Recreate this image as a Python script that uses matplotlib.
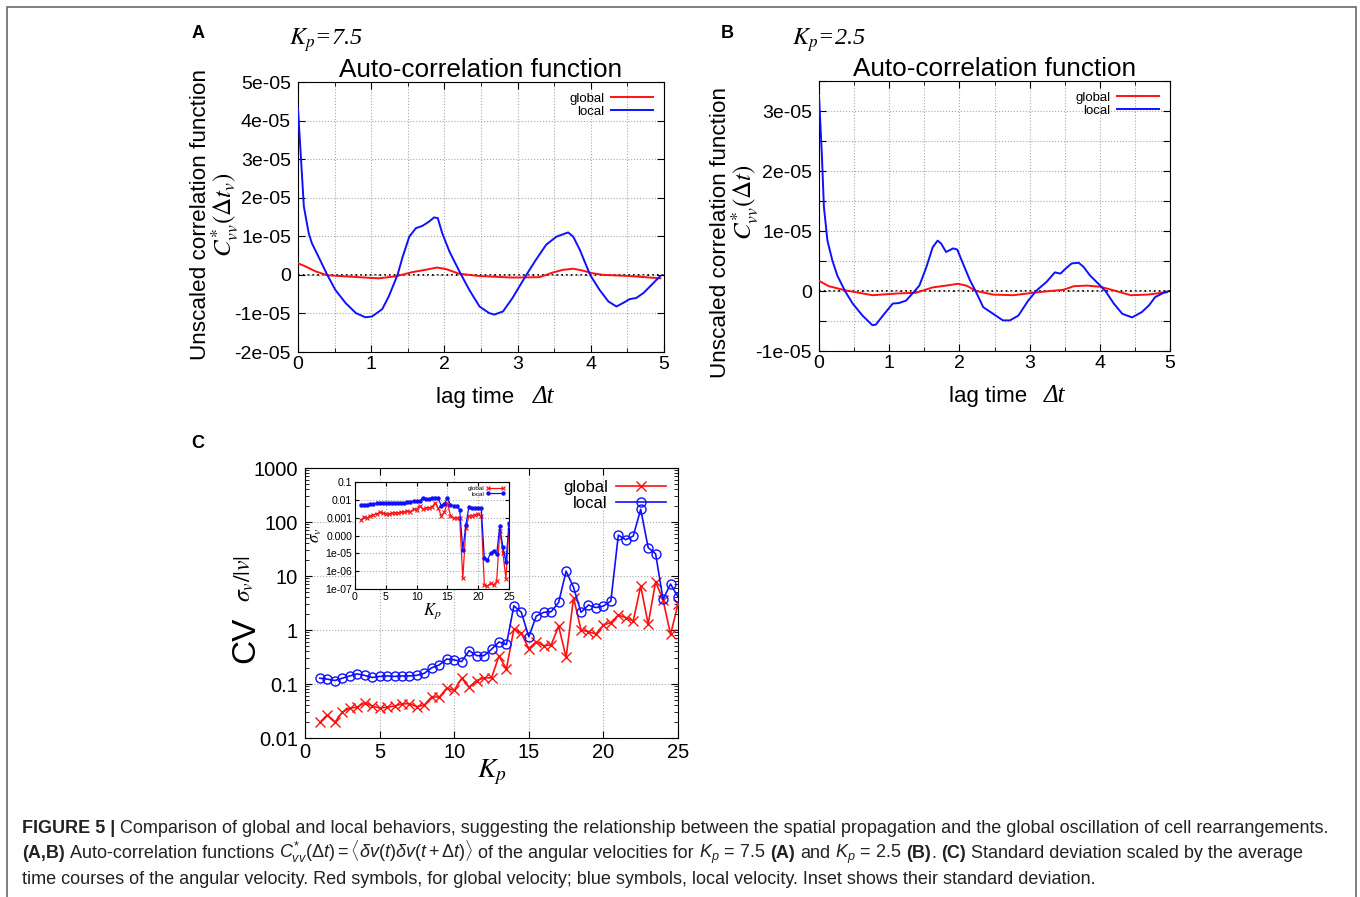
import numpy as np
import matplotlib
matplotlib.use('Agg')
import matplotlib.pyplot as plt
from matplotlib.patches import Rectangle
from matplotlib.ticker import MultipleLocator, FixedLocator, FuncFormatter, LogLocator, NullFormatter

# fonts
plt.rcParams['font.family'] = ['Liberation Sans', 'DejaVu Sans']
plt.rcParams['mathtext.fontset'] = 'stix'
plt.rcParams['mathtext.rm'] = 'Liberation Sans'
plt.rcParams['mathtext.it'] = 'Liberation Sans:italic'
plt.rcParams['mathtext.bf'] = 'Liberation Sans:bold'
plt.rcParams['axes.unicode_minus'] = False

SERIF = ['Liberation Serif', 'DejaVu Serif']

# ---- panel A: Kp = 7.5 ----
a_t_local = [0.0, 0.08, 0.146, 0.19, 0.28, 0.40, 0.51, 0.65, 0.79, 0.92, 1.01, 1.15, 1.24,
             1.36, 1.43, 1.52, 1.61, 1.70, 1.79, 1.86, 1.91, 1.97, 2.07, 2.16, 2.23, 2.34,
             2.48, 2.61, 2.68, 2.80, 2.93, 3.12, 3.25, 3.39, 3.53, 3.69, 3.76, 3.85, 3.99,
             4.12, 4.24, 4.35, 4.44, 4.53, 4.62, 4.72, 4.85, 4.95]
a_local = [4.31, 1.77, 1.08, 0.82, 0.47, 0.0, -0.39, -0.73, -0.99, -1.10, -1.08, -0.89, -0.56,
           0.0, 0.47, 0.99, 1.21, 1.27, 1.38, 1.49, 1.47, 1.08, 0.60, 0.26, 0.0, -0.39,
           -0.82, -0.99, -1.03, -0.95, -0.60, 0.0, 0.39, 0.78, 0.99, 1.10, 0.99, 0.65, 0.0,
           -0.39, -0.69, -0.82, -0.73, -0.63, -0.60, -0.47, -0.22, -0.03]
a_t_global = [0.0, 0.1, 0.24, 0.40, 0.65, 1.1, 1.33, 1.56, 1.74, 1.90, 2.02, 2.2, 2.48, 2.93,
              3.3, 3.48, 3.62, 3.76, 3.89, 4.03, 4.17, 4.53, 4.95]
a_global = [0.30, 0.22, 0.09, -0.01, -0.04, -0.09, -0.04, 0.07, 0.13, 0.19, 0.15, 0.03, -0.03,
            -0.07, -0.06, 0.06, 0.13, 0.16, 0.11, 0.04, 0.0, -0.03, -0.09]

# ---- panel B: Kp = 2.5 ----
b_t_local = [0.0, 0.04, 0.07, 0.12, 0.19, 0.26, 0.37, 0.48, 0.62, 0.76, 0.81, 0.91, 1.05, 1.14,
             1.24, 1.34, 1.43, 1.53, 1.62, 1.69, 1.74, 1.81, 1.91, 1.97, 2.05, 2.15, 2.23,
             2.34, 2.48, 2.62, 2.72, 2.84, 2.98, 3.10, 3.24, 3.36, 3.44, 3.51, 3.60, 3.70,
             3.77, 3.86, 3.98, 4.08, 4.20, 4.32, 4.46, 4.60, 4.70, 4.79, 4.91, 4.96]
b_local = [3.26, 2.29, 1.40, 0.84, 0.51, 0.26, 0.0, -0.21, -0.41, -0.57, -0.56, -0.41, -0.21,
           -0.20, -0.16, -0.03, 0.09, 0.40, 0.73, 0.84, 0.79, 0.65, 0.71, 0.69, 0.46, 0.18,
           0.0, -0.27, -0.38, -0.49, -0.49, -0.41, -0.16, 0.01, 0.15, 0.31, 0.29, 0.37, 0.46,
           0.47, 0.40, 0.26, 0.12, 0.0, -0.21, -0.38, -0.44, -0.35, -0.24, -0.10, -0.03, -0.01]
b_t_global = [0.0, 0.14, 0.38, 0.76, 1.14, 1.38, 1.62, 1.81, 1.98, 2.10, 2.24, 2.48, 2.77, 3.05,
              3.29, 3.48, 3.63, 3.82, 4.01, 4.20, 4.44, 4.68, 4.96]
b_global = [0.17, 0.08, 0.01, -0.07, -0.04, -0.03, 0.06, 0.09, 0.12, 0.09, 0.0, -0.06, -0.07,
            -0.03, 0.0, 0.02, 0.08, 0.09, 0.07, 0.01, -0.07, -0.06, -0.02]

# ---- panel C: CV vs Kp ----
kp = [1, 1.5, 2, 2.5, 3, 3.5, 4, 4.5, 5, 5.5, 6, 6.5, 7, 7.5, 8, 8.5, 9, 9.5, 10, 10.5,
      11, 11.5, 12, 12.5, 13, 13.5, 14, 14.5, 15, 15.5, 16, 16.5, 17, 17.5, 18, 18.5,
      19, 19.5, 20, 20.5, 21, 21.5, 22, 22.5, 23, 23.5, 24, 24.5, 25]
cv_global = [0.0195, 0.027, 0.0195, 0.030, 0.036, 0.037, 0.045, 0.039, 0.036, 0.037, 0.039,
             0.043, 0.043, 0.038, 0.041, 0.058, 0.057, 0.084, 0.076, 0.128, 0.087, 0.116,
             0.13, 0.13, 0.33, 0.19, 1.04, 0.87, 0.45, 0.61, 0.51, 0.53, 1.18, 0.31, 3.96,
             1.0, 0.93, 0.84, 1.24, 1.37, 1.89, 1.69, 1.47, 6.5, 1.29, 7.8, 3.6, 0.83, 3.0]
cv_local = [0.128, 0.123, 0.116, 0.128, 0.141, 0.154, 0.144, 0.132, 0.138, 0.141, 0.138,
            0.141, 0.141, 0.145, 0.158, 0.20, 0.226, 0.29, 0.28, 0.26, 0.415, 0.335, 0.335,
            0.44, 0.60, 0.54, 2.8, 2.12, 0.75, 1.81, 2.12, 2.18, 3.24, 12.3, 6.15, 2.12, 2.9,
            2.6, 2.78, 3.43, 57, 47, 55, 172, 33.6, 25.7, 3.68, 7.1, 4.1]

# inset: standard deviation
sd_global = [7.5e-4, 1.1e-3, 1.0e-3, 1.3e-3, 1.5e-3, 1.6e-3, 2.0e-3, 1.8e-3, 1.6e-3, 1.6e-3,
             1.8e-3, 1.9e-3, 1.9e-3, 2.0e-3, 2.1e-3, 2.4e-3, 2.2e-3, 3.0e-3, 2.8e-3, 4.8e-3,
             3.0e-3, 3.5e-3, 3.6e-3, 4.0e-3, 6.8e-3, 3.5e-3, 1.3e-3, 2.0e-3, 6.6e-3, 1.3e-3,
             1.0e-3, 1.0e-3, 9.0e-4, 3.9e-7, 2.6e-4, 1.2e-3, 1.3e-3, 1.5e-3, 1.6e-3, 1.2e-3,
             1.6e-7, 1.5e-7, 2.1e-7, 1.6e-7, 2.8e-7, 1.9e-4, 1.1e-5, 3.7e-7, 3.0e-4]
sd_local = [5.2e-3, 5.4e-3, 5.4e-3, 5.8e-3, 6.0e-3, 6.3e-3, 6.5e-3, 6.3e-3, 6.3e-3, 6.4e-3,
            6.5e-3, 6.5e-3, 6.6e-3, 6.7e-3, 6.8e-3, 7.2e-3, 7.8e-3, 8.5e-3, 8.2e-3, 8.5e-3,
            1.3e-2, 1.1e-2, 1.15e-2, 1.25e-2, 1.3e-2, 1.2e-2, 4.8e-3, 5.8e-3, 1.25e-2, 5.2e-3,
            4.8e-3, 4.4e-3, 2.8e-3, 1.6e-5, 4.0e-4, 4.2e-3, 3.4e-3, 3.6e-3, 3.6e-3, 3.4e-3,
            5.2e-6, 4.2e-6, 1.0e-5, 1.4e-5, 9.0e-6, 3.3e-4, 2.3e-5, 3.1e-6, 4.9e-4]

W, H = 1360, 897
fig = plt.figure(figsize=(W / 100, H / 100), dpi=100)

GRID = dict(color='#a8a8a8', linestyle=':', linewidth=0.8)


def px_axes(left, top, right, bottom):
    return fig.add_axes([left / W, 1 - bottom / H, (right - left) / W, (bottom - top) / H])


def sci_label(v, _):
    if abs(v) < 1e-12:
        return '0'
    if abs(round(v / 1e-5) - v / 1e-5) > 1e-6:
        return ''
    return f'{v:.0e}'


def style_corr(ax, ymin, ymax, ystep):
    ax.set_xlim(0, 5)
    ax.set_ylim(ymin, ymax)
    ax.xaxis.set_major_locator(MultipleLocator(1))
    ax.xaxis.set_minor_locator(MultipleLocator(0.5))
    ax.yaxis.set_major_locator(MultipleLocator(ystep))
    ax.yaxis.set_major_formatter(FuncFormatter(sci_label))
    ax.tick_params(which='both', direction='in', top=True, right=True, labelsize=14)
    ax.tick_params(which='major', length=5)
    ax.tick_params(which='minor', length=3)
    ax.tick_params(axis='x', pad=3)
    ax.tick_params(axis='y', pad=5)
    ax.grid(True, which='both', **GRID)
    ax.axhline(0, color='k', linestyle=':', linewidth=1.3, zorder=1)
    ax.set_title('Auto-correlation function', fontsize=18.8, pad=2)
    ax.set_xlabel('lag time  ', fontsize=16, labelpad=10)


def draw_corr(ax, tg, g, tl, l):
    ax.plot(tg, np.array(g) * 1e-5, color='#ff1010', lw=1.4, label='global', zorder=3)
    ax.plot(tl, np.array(l) * 1e-5, color='#1010ff', lw=1.4, label='local', zorder=3)
    ax.legend(loc='upper right', frameon=False, markerfirst=False, fontsize=9.5,
              handlelength=3.2, handletextpad=0.5, labelspacing=0.05,
              borderaxespad=0.4)


# panel A
axA = px_axes(298, 82, 664, 352)
draw_corr(axA, a_t_global, a_global, a_t_local, a_local)
style_corr(axA, -2e-5, 5e-5, 1e-5)

# panel B
axB = px_axes(819, 81, 1170, 351)
draw_corr(axB, b_t_global, b_global, b_t_local, b_local)
style_corr(axB, -1e-5, 3.5e-5, 0.5e-5)

# italic Δt next to the x labels
for ax in (axA, axB):
    ax.text(0.67, -0.165, 'Δt', transform=ax.transAxes, fontsize=18,
            family=SERIF, style='italic', ha='center', va='center')

# y labels and Kp values above A and B
fig.text(201 / W, 1 - 215 / H, 'Unscaled correlation function', rotation=90,
         fontsize=16.2, ha='center', va='center')
fig.text(225 / W, 1 - 215 / H, r'$C^{*}_{vv}(\mathit{\Delta} t_{v})$', rotation=90,
         fontsize=18, ha='center', va='center')
fig.text(721 / W, 1 - 233 / H, 'Unscaled correlation function', rotation=90,
         fontsize=16.2, ha='center', va='center')
fig.text(745 / W, 1 - 202 / H, r'$C^{*}_{vv}(\mathit{\Delta} t)$', rotation=90,
         fontsize=18, ha='center', va='center')
fig.text(289 / W, 1 - 40 / H, r'$K_p$=7.5', fontsize=17.5, family=SERIF, style='italic',
         ha='left', va='center')
fig.text(792 / W, 1 - 40 / H, r'$K_p$=2.5', fontsize=17.5, family=SERIF, style='italic',
         ha='left', va='center')

# panel C
axC = px_axes(305, 468, 678, 738)
axC.plot(kp, cv_global, color='#ff1010', lw=1.2, marker='x', ms=6.5, mew=1.0,
         label='global', zorder=3)
axC.plot(kp, cv_local, color='#1010ff', lw=1.2, marker='o', ms=6.5, mew=1.0,
         mfc='none', label='local', zorder=3)
axC.set_yscale('log')
axC.set_xlim(0, 25)
axC.set_ylim(0.01, 1000)
axC.xaxis.set_major_locator(MultipleLocator(5))
axC.yaxis.set_major_locator(FixedLocator([0.01, 0.1, 1, 10, 100, 1000]))
axC.yaxis.set_major_formatter(FuncFormatter(lambda v, _: f'{v:g}'))
axC.yaxis.set_minor_locator(LogLocator(base=10, subs=np.arange(2, 10)))
axC.yaxis.set_minor_formatter(NullFormatter())
axC.tick_params(which='both', direction='in', top=True, right=True, labelsize=14.5)
axC.tick_params(which='major', length=5)
axC.tick_params(which='minor', length=3)
axC.tick_params(axis='y', pad=5)
axC.grid(True, which='major', **GRID)
axC.set_xlabel(r'$K_p$', fontsize=20, labelpad=-3)
axC.legend(loc='upper right', frameon=False, markerfirst=False, fontsize=12,
           handlelength=3.0, handletextpad=0.5, labelspacing=0.05, borderaxespad=0.3,
           numpoints=1)
fig.text(246 / W, 1 - 640 / H, 'CV', rotation=90, fontsize=24, ha='center', va='center')
fig.text(244 / W, 1 - 578 / H, r'$\sigma_{v}/|v|$', rotation=90, fontsize=17,
         ha='center', va='center')

# inset: standard deviation
axI = px_axes(355, 482, 509, 589)
axI.plot(kp, sd_global, color='#ff1010', lw=0.9, marker='x', ms=2.2, mew=0.8,
         label='global', zorder=3)
axI.plot(kp, sd_local, color='#1010ff', lw=0.9, marker='o', ms=2.2,
         label='local', zorder=3)
axI.set_yscale('log')
axI.set_xlim(0, 25)
axI.set_ylim(1e-7, 0.1)
axI.xaxis.set_major_locator(MultipleLocator(5))
inset_ticks = [1e-7, 1e-6, 1e-5, 1e-4, 1e-3, 1e-2, 1e-1]
inset_labels = ['1e-07', '1e-06', '1e-05', '0.000', '0.001', '0.01', '0.1']
axI.yaxis.set_major_locator(FixedLocator(inset_ticks))
axI.set_yticklabels(inset_labels)
axI.yaxis.set_minor_formatter(NullFormatter())
axI.tick_params(which='both', direction='in', top=True, right=True, labelsize=7.6, pad=2)
axI.tick_params(which='major', length=3)
axI.tick_params(which='minor', length=0)
axI.grid(True, which='major', **GRID)
axI.set_xlabel(r'$K_p$', fontsize=12, labelpad=0)
axI.set_ylabel(r'$\sigma_v$', fontsize=12, labelpad=1)
axI.legend(loc='upper right', frameon=False, markerfirst=False, fontsize=4.5,
           handlelength=3.0, handletextpad=0.4, labelspacing=0.0, borderaxespad=0.2,
           numpoints=2)

# panel letters
for letter, x, y in (('A', 198, 33), ('B', 727, 33), ('C', 198, 443)):
    fig.text(x / W, 1 - y / H, letter, fontsize=13, fontweight='bold',
             ha='center', va='center')

# outer frame (open at the bottom edge)
fig.patches.append(Rectangle((7 / W, -0.05), (1356 - 7) / W, 1 - 7 / H + 0.05,
                             transform=fig.transFigure, fill=False,
                             edgecolor='#6a6a6a', lw=1.2))

# caption
renderer = fig.canvas.get_renderer()


def run_width(s, size, bold):
    t = fig.text(0, 0, s, fontsize=size, fontweight='bold' if bold else 'normal',
                 math_fontfamily='custom')
    w = t.get_window_extent(renderer=renderer).width
    t.remove()
    return w


def caption_line(y_px, runs, size):
    space = run_width('a a', size, False) - run_width('aa', size, False)
    x = 22
    for s, bold, gap in runs:
        t = fig.text(x / W, 1 - y_px / H, s, fontsize=size,
                     fontweight='bold' if bold else 'normal',
                     math_fontfamily='custom', ha='left', va='baseline', color='#222222')
        x += t.get_window_extent(renderer=renderer).width
        if gap:
            x += space


line1 = [('FIGURE 5 |', True, True),
         ('Comparison of global and local behaviors, suggesting the relationship between '
          'the spatial propagation and the global oscillation of cell rearrangements.', False, False)]
line2 = [('(A,B)', True, True),
         ('Auto-correlation functions', False, True),
         (r'$C^{*}_{vv}(\mathit{\Delta t}) = \langle\delta v(t)\delta v(t+\mathit{\Delta t})\rangle$', False, True),
         ('of the angular velocities for', False, True),
         (r'$K_p$ = 7.5', False, True),
         ('(A)', True, True),
         ('and', False, True),
         (r'$K_p$ = 2.5', False, True),
         ('(B)', True, False),
         ('.', False, True),
         ('(C)', True, True),
         ('Standard deviation scaled by the average', False, False)]
line3 = [('time courses of the angular velocity. Red symbols, for global velocity; blue '
          'symbols, local velocity. Inset shows their standard deviation.', False, False)]

# size chosen so the first line spans the text block
w1 = run_width(line1[0][0], 12, True) + run_width(line1[1][0], 12, False)
cap_size = 12 * 1300 / w1
caption_line(833, line1, cap_size)
caption_line(858, line2, cap_size)
caption_line(884, line3, cap_size)

fig.savefig('out.png', dpi=100)
